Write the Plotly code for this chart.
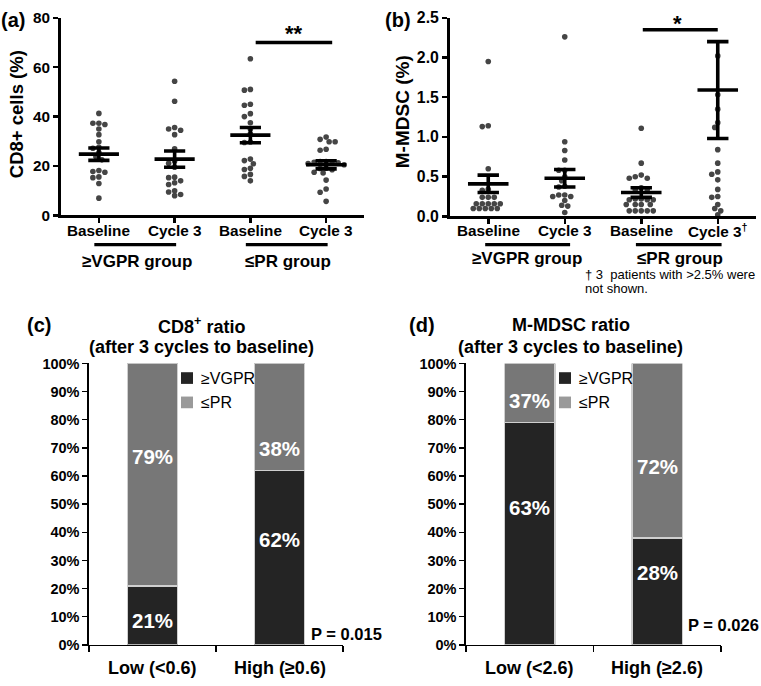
import numpy as np
import plotly.graph_objects as go

W, H = 761, 686
FONT = "Liberation Sans"

# ---------------- data ----------------
# Panel (a): CD8+ cells (%)
a_ticklabels = ["Baseline", "Cycle 3", "Baseline", "Cycle 3"]
a_vgpr_baseline = [41.3, 37.3, 36.8, 37.3, 35.0, 32.7, 29.8, 27.6, 27.2, 25.5, 23.8, 22.5,
                   18.2, 17.5, 17.8, 15.3, 15.6, 12.9, 7.0]
a_vgpr_cycle3 = [54.3, 46.2, 35.6, 35.0, 34.5, 32.7, 27.0, 22.0, 21.1, 19.5, 15.3, 15.5,
                 13.2, 14.0, 12.5, 9.5, 8.0, 8.5, 10.0]
a_pr_baseline = [63.4, 51.0, 50.7, 44.6, 45.0, 41.2, 40.0, 37.5, 35.0, 33.0, 29.7, 29.5,
                 22.8, 22.2, 20.9, 19.1, 18.6, 16.6, 15.8, 14.0]
a_pr_cycle3 = [31.7, 29.8, 29.8, 30.8, 26.4, 26.8, 21.8, 21.5, 21.0, 21.6, 21.3, 21.8,
               20.5, 19.1, 18.5, 19.0, 17.5, 17.2, 14.3, 10.7, 9.4, 5.7]
a_means = [24.8, 22.8, 32.5, 20.5]
a_sems = [2.5, 3.3, 3.1, 1.65]

# Panel (b): M-MDSC (%)
b_ticklabels = ["Baseline", "Cycle 3", "Baseline", "Cycle 3<sup>†</sup>"]
b_vgpr_baseline = [1.95, 1.14, 1.13, 0.60, 0.34, 0.33, 0.24, 0.24, 0.24, 0.16, 0.16, 0.16,
                   0.16, 0.16, 0.10, 0.10, 0.10, 0.10, 0.10]
b_vgpr_cycle3 = [2.26, 0.94, 0.83, 0.71, 0.58, 0.58, 0.50, 0.45, 0.38, 0.37, 0.27, 0.27,
                 0.25, 0.25, 0.20, 0.14, 0.13, 0.05]
b_pr_baseline = [1.11, 0.67, 0.52, 0.50, 0.48, 0.48, 0.36, 0.34, 0.34, 0.22, 0.21, 0.21,
                 0.21, 0.22, 0.15, 0.15, 0.15, 0.15, 0.07, 0.07, 0.07, 0.07, 0.07]
b_pr_cycle3 = [2.02, 1.53, 1.35, 1.18, 1.12, 0.84, 0.67, 0.56, 0.53, 0.46, 0.34, 0.25,
               0.24, 0.15, 0.10, 0.07, 0.02]
b_means = [0.41, 0.48, 0.30, 1.59]
b_sems = [0.11, 0.11, 0.06, 0.61]

group_labels = ["≥VGPR group", "≤PR group"]

# Panel (c): CD8+ ratio
c_categories = ["Low (<0.6)", "High (≥0.6)"]
c_vgpr = [0.21, 0.62]
c_pr = [0.79, 0.38]
c_vgpr_text = ["21%", "62%"]
c_pr_text = ["79%", "38%"]
c_pvalue = "P = 0.015"

# Panel (d): M-MDSC ratio
d_categories = ["Low (<2.6)", "High (≥2.6)"]
d_vgpr = [0.79, 0.38]
d_pr = [0.21, 0.62]
d_vgpr_text = ["63%", "28%"]
d_pr_text = ["37%", "72%"]
d_pvalue = "P = 0.026"

legend_names = ["≥VGPR", "≤PR"]

# ---------------- helpers ----------------
def fx(px):
    return px / W


def fy(py):
    return 1 - py / H


def swarm(vals, ppu_y, ppu_x, diam=5.0, step=3.0):
    vals = np.asarray(vals, dtype=float)
    order = np.argsort(-vals, kind="stable")
    placed = []
    offs = np.zeros(len(vals))
    cands = sorted({k * step for k in range(-12, 13)}, key=lambda o: (abs(o), o))
    for i in order:
        y = vals[i] * ppu_y
        chosen = 0.0
        for o in cands:
            if all((o - px) ** 2 + (y - py) ** 2 >= diam ** 2 for px, py in placed):
                chosen = o
                break
        placed.append((chosen, y))
        offs[i] = chosen
    return offs / ppu_x


def bold(size, color="black"):
    return dict(family=FONT, size=size, color=color, weight="bold")


fig = go.Figure()

# ---------------- scatter panels ----------------
scatter_panels = [
    ("x", "y", [a_vgpr_baseline, a_vgpr_cycle3, a_pr_baseline, a_pr_cycle3], a_means, a_sems,
     202 / 80.0, 75.75),
    ("x2", "y2", [b_vgpr_baseline, b_vgpr_cycle3, b_pr_baseline, b_pr_cycle3], b_means, b_sems,
     203 / 2.5, 76.5),
]
for xr, yr, groups, means, sems, ppu_y, ppu_x in scatter_panels:
    for gi, vals in enumerate(groups):
        offs = swarm(vals, ppu_y, ppu_x)
        fig.add_trace(go.Scatter(
            x=gi + offs, y=vals, mode="markers", xaxis=xr, yaxis=yr,
            marker=dict(size=5.6, color="#454545"), showlegend=False, hoverinfo="y"))
    xs, ys = [], []
    for gi, (m, s) in enumerate(zip(means, sems)):
        xs += [gi - 0.265, gi + 0.265, None, gi - 0.14, gi + 0.14, None,
               gi - 0.14, gi + 0.14, None, gi, gi, None]
        ys += [m, m, None, m + s, m + s, None, m - s, m - s, None, m - s, m + s, None]
    fig.add_trace(go.Scatter(x=xs, y=ys, mode="lines", xaxis=xr, yaxis=yr,
                             line=dict(color="black", width=3.6), showlegend=False,
                             hoverinfo="skip"))

# ---------------- stacked bar panels ----------------
bar_colors = ["#242424", "#777777"]
legend_colors = ["#242424", "#9a9a9a"]
for xr, yr, vgpr, pr in [("x3", "y3", c_vgpr, c_pr), ("x4", "y4", d_vgpr, d_pr)]:
    for vals, col in zip([vgpr, pr], bar_colors):
        fig.add_trace(go.Bar(x=[0, 1], y=vals, width=0.395, xaxis=xr, yaxis=yr,
                             marker=dict(color=col, line=dict(color="#cfcfcf", width=1.6)),
                             showlegend=False, hoverinfo="y"))

# ---------------- axes ----------------
common_scatter_x = dict(range=[-0.5, 3.5], tickvals=[0, 1, 2, 3], showticklabels=False,
                        ticks="outside", ticklen=5,
                        tickwidth=2.5, tickcolor="black", showline=True, linewidth=3,
                        linecolor="black", showgrid=False, zeroline=False, fixedrange=True)
common_scatter_y = dict(ticks="outside", ticklen=5, tickwidth=2.5, tickcolor="black",
                        showline=True, linewidth=3, linecolor="black", showgrid=False,
                        zeroline=False, fixedrange=True)

fig.update_layout(
    width=W, height=H, margin=dict(l=0, r=0, t=0, b=0),
    paper_bgcolor="white", plot_bgcolor="rgba(0,0,0,0)",
    barmode="stack", bargap=0, showlegend=False,
    xaxis=dict(domain=[fx(61), fx(364)], anchor="y", **common_scatter_x),
    yaxis=dict(domain=[fy(212), fy(9)], anchor="x", range=[0, 80], dtick=20,
               tickfont=bold(15.3), **common_scatter_y),
    xaxis2=dict(domain=[fx(450), fx(756)], anchor="y2", **common_scatter_x),
    yaxis2=dict(domain=[fy(213), fy(9)], anchor="x2", range=[0, 2.5], dtick=0.5,
                tickformat=".1f", tickfont=bold(15.8), **common_scatter_y),
)

for xa, ya, xd in [("xaxis3", "yaxis3", [89, 343]), ("xaxis4", "yaxis4", [466, 721])]:
    fig.layout[xa] = dict(domain=[fx(xd[0]), fx(xd[1])], anchor=ya.replace("axis", ""),
                          range=[-0.5, 1.5], tickvals=[-0.5, 0.5, 1.5], showticklabels=False,
                          ticks="outside", ticklen=6, tickwidth=1.5, tickcolor="black",
                          showline=True, linewidth=1.6, linecolor="black", showgrid=False,
                          zeroline=False, fixedrange=True)
    fig.layout[ya] = dict(domain=[fy(653), fy(364)], anchor=xa.replace("axis", ""),
                          range=[0, 1], tickvals=[i / 10 for i in range(11)], tickformat=".0%",
                          ticks="outside", ticklen=5, tickwidth=1.5, tickcolor="black",
                          showline=True, linewidth=1.6, linecolor="black", showgrid=False,
                          zeroline=False, tickfont=bold(14.5), fixedrange=True)

# ---------------- annotations & shapes ----------------
ann = []
shapes = []


def text(x, y, t, font, xref="paper", yref="paper", xanchor="center", yanchor="middle", **kw):
    ann.append(dict(x=x, y=y, text=t, font=font, xref=xref, yref=yref, xanchor=xanchor,
                    yanchor=yanchor, showarrow=False, **kw))


# panel letters
text(fx(13), fy(11), "(a)", bold(20))
text(fx(398), fy(11), "(b)", bold(20))
text(fx(39), fy(325), "(c)", bold(20))
text(fx(422), fy(325), "(d)", bold(20))

# y titles
text(fx(16), fy(108), "CD8+ cells (%)", bold(18.5), textangle=-90)
text(fx(402), fy(106), "M-MDSC (%)", bold(19), textangle=-90)

# category tick labels (at the category positions of each x axis)
for xr, labels, ty in [("x", a_ticklabels, 227), ("x2", b_ticklabels, 227)]:
    for i, lbl in enumerate(labels):
        text(i, fy(ty), lbl, bold(15.3), xref=xr)

# group labels and underlines
for xr, ylab, yline, spans in [("x", 259, 242, [(-0.06, 1.02), (1.94, 3.02)]),
                               ("x2", 256, 242, [(-0.04, 1.07), (1.93, 3.05)])]:
    for gi, (lbl, (s0, s1)) in enumerate(zip(group_labels, spans)):
        text(0.5 + 2 * gi, fy(ylab), lbl, bold(17), xref=xr)
        shapes.append(dict(type="line", xref=xr, yref="paper", x0=s0, x1=s1,
                           y0=fy(yline), y1=fy(yline), line=dict(color="black", width=3.4)))

# significance bars
shapes.append(dict(type="line", xref="x", yref="y", x0=2.07, x1=3.08, y0=70, y1=70,
                   line=dict(color="black", width=3.6)))
text(2.57, 73.5, "**", bold(22), xref="x", yref="y")
shapes.append(dict(type="line", xref="x2", yref="y2", x0=2.02, x1=3.0, y0=2.35, y1=2.35,
                   line=dict(color="black", width=3.6)))
text(2.48, 2.43, "*", bold(22), xref="x2", yref="y2")

# footnote
foot = dict(family=FONT, size=13, color="black")
text(fx(583), fy(273), "† 3\u00a0\u00a0patients with >2.5% were", foot, xanchor="left")
text(fx(583), fy(287), "not shown.", foot, xanchor="left")

# bar panel titles
text(fx(201), fy(325), "CD8<sup>+</sup> ratio", bold(18))
text(fx(201), fy(347), "(after 3 cycles to baseline)", bold(18))
text(fx(571), fy(325), "M-MDSC ratio", bold(18))
text(fx(570), fy(347), "(after 3 cycles to baseline)", bold(18))

# category labels
for xr, cats in [("x3", c_categories), ("x4", d_categories)]:
    for i, c in enumerate(cats):
        text(i, fy(677), c, bold(18), xref=xr)

# percent labels inside bars (positions)
label_y_c = {"vgpr": [0.087, 0.374], "pr": [0.668, 0.696]}
label_y_d = {"vgpr": [0.488, 0.256], "pr": [0.868, 0.633]}
for xr, yr, vt, pt, ly in [("x3", "y3", c_vgpr_text, c_pr_text, label_y_c),
                           ("x4", "y4", d_vgpr_text, d_pr_text, label_y_d)]:
    for i in range(2):
        text(i, ly["vgpr"][i], vt[i], bold(20.5, "white"), xref=xr, yref=yr)
        text(i, ly["pr"][i], pt[i], bold(20.5, "white"), xref=xr, yref=yr)

# p-values
text(fx(309), fy(642), c_pvalue, bold(16.5), xanchor="left")
text(fx(686), fy(633), d_pvalue, bold(16.5), xanchor="left")

# hand-made legends
for sx in [181, 559]:
    for k, (name, col) in enumerate(zip(legend_names, legend_colors)):
        top = 373 + 25 * k
        shapes.append(dict(type="rect", xref="paper", yref="paper", x0=fx(sx), x1=fx(sx + 12),
                           y0=fy(top + 12), y1=fy(top), fillcolor=col, line=dict(width=0)))
        text(fx(sx + 18), fy(top + 6), name, dict(family=FONT, size=16, color="black"),
             xanchor="left")

fig.update_layout(annotations=ann, shapes=shapes)
page_css = ("document.documentElement.style.margin='0';"
            "document.documentElement.style.padding='0';"
            "document.documentElement.style.overflow='hidden';"
            "document.body.style.margin='0';"
            "document.body.style.padding='0';"
            "document.body.style.overflow='hidden';")
fig.write_html("out.html", config={"displayModeBar": False, "staticPlot": True},
               post_script=page_css)
